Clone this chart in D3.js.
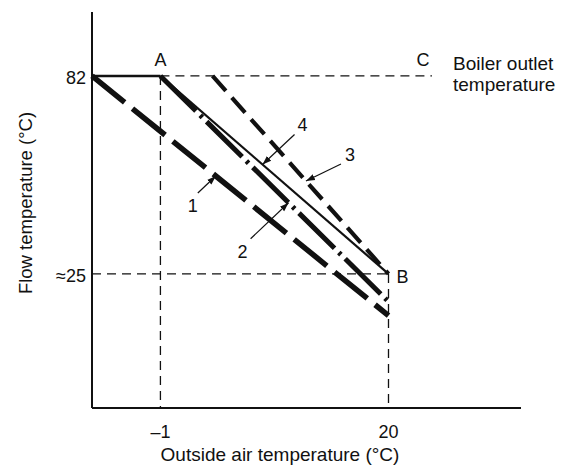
<!DOCTYPE html>
<html>
<head>
<meta charset="utf-8">
<script src="https://cdn.jsdelivr.net/npm/d3@7"></script>
<style>
  body { margin: 0; background: #fff; }
  svg text { font-family: "Liberation Sans", Arial, sans-serif; fill: #111; }
</style>
</head>
<body>
<script>
// schematic data (deg C)
const boilerTemp = 82;
const designOutside = -1;
const designInside = 20;
const lowFlow = 25;
const xTicks = [-1, 20];
const xTickLabels = ["\u20131", "20"];
const yTicks = [82, 25];
const yTickLabels = ["82", "\u224825"];

// the four flow curves: start x at 82 C, end temperature at 20 C
const curveNames = ["1", "2", "3", "4"];
const curveStartX = [-7.3, -1, 3.8, -1];
const curveEndY = [13, 17, 25, 25];
// where each arrow points on its curve (outside temp)
const arrowAtX = [4.1, 10.8, 12.4, 8.4];

const width = 565, height = 465;
const svg = d3.select("body").append("svg")
    .attr("width", width)
    .attr("height", height);

const x = d3.scaleLinear().domain([-7.3, 32.2]).range([92, 521]);
const y = d3.scaleLinear().domain([-13.6, 100.4]).range([408, 12]);

// arrow marker
svg.append("defs").append("marker")
    .attr("id", "arr")
    .attr("viewBox", "0 0 10 10")
    .attr("refX", 10).attr("refY", 5)
    .attr("markerWidth", 9).attr("markerHeight", 9)
    .attr("markerUnits", "userSpaceOnUse")
    .attr("orient", "auto")
    .append("path")
    .attr("d", "M0,1.5 L10,5 L0,8.5 Z")
    .attr("fill", "#111");

// dashed guide lines
const guides = [
    [designOutside, boilerTemp, 24, boilerTemp],
    [x.domain()[0], lowFlow, designInside, lowFlow],
    [designOutside, boilerTemp, designOutside, y.domain()[0]],
    [designInside, lowFlow, designInside, y.domain()[0]]
];
svg.selectAll(".guide").data(guides).enter().append("line")
    .attr("class", "guide")
    .attr("x1", d => x(d[0])).attr("y1", d => y(d[1]))
    .attr("x2", d => x(d[2])).attr("y2", d => y(d[3]))
    .attr("stroke", "#111")
    .attr("stroke-width", 1.3)
    .attr("stroke-dasharray", "9,6");

// axes (plain lines, no ticks)
svg.append("line")
    .attr("x1", x.range()[0]).attr("x2", x.range()[0])
    .attr("y1", y.range()[1]).attr("y2", y.range()[0])
    .attr("stroke", "#111").attr("stroke-width", 2);
svg.append("line")
    .attr("x1", x.range()[0]).attr("x2", x.range()[1])
    .attr("y1", y.range()[0]).attr("y2", y.range()[0])
    .attr("stroke", "#111").attr("stroke-width", 2);

// flat part of the curve at boiler temperature
svg.append("line")
    .attr("x1", x(x.domain()[0])).attr("y1", y(boilerTemp))
    .attr("x2", x(designOutside)).attr("y2", y(boilerTemp))
    .attr("stroke", "#111").attr("stroke-width", 2.5);

const curveStyle = {
    "1": { w: 5.5, dash: "42,10" },
    "2": { w: 5, dash: "50,6,3,6" },
    "3": { w: 4.2, dash: "20,9" },
    "4": { w: 2.2, dash: null }
};

const curves = curveNames.map((n, i) => ({
    name: n, x0: curveStartX[i], y0: boilerTemp, x1: designInside, y1: curveEndY[i], at: arrowAtX[i]
}));

svg.selectAll(".curve").data(curves).enter().append("line")
    .attr("class", "curve")
    .attr("x1", d => x(d.x0)).attr("y1", d => y(d.y0))
    .attr("x2", d => x(d.x1)).attr("y2", d => y(d.y1))
    .attr("stroke", "#111")
    .attr("stroke-width", d => curveStyle[d.name].w)
    .attr("stroke-dasharray", d => curveStyle[d.name].dash);

// arrows and number labels (label offsets in px from the tip)
const labelOff = {
    "1": { tx: -18, ty: 17, lx: -23, ly: 31 },
    "2": { tx: -38, ty: 36, lx: -46, ly: 50 },
    "3": { tx: 35, ty: -17, lx: 44, ly: -25 },
    "4": { tx: 32, ty: -30, lx: 40, ly: -38 }
};
function onCurve(d) {
    const t = (d.at - d.x0) / (d.x1 - d.x0);
    return [x(d.at), y(d.y0 + t * (d.y1 - d.y0))];
}
curves.forEach(d => {
    const p = onCurve(d);
    const o = labelOff[d.name];
    svg.append("line")
        .attr("x1", p[0] + o.tx).attr("y1", p[1] + o.ty)
        .attr("x2", p[0]).attr("y2", p[1])
        .attr("stroke", "#111").attr("stroke-width", 1.2)
        .attr("marker-end", "url(#arr)");
    svg.append("text")
        .attr("x", p[0] + o.lx).attr("y", p[1] + o.ly)
        .attr("text-anchor", "middle")
        .attr("dominant-baseline", "middle")
        .attr("font-size", 18)
        .text(d.name);
});

// point letters
svg.append("text").attr("x", x(designOutside)).attr("y", y(boilerTemp) - 10)
    .attr("text-anchor", "middle").attr("font-size", 18).text("A");
svg.append("text").attr("x", x(24) - 9).attr("y", y(boilerTemp) - 10)
    .attr("text-anchor", "middle").attr("font-size", 18).text("C");
svg.append("text").attr("x", x(designInside) + 14).attr("y", y(lowFlow) + 9)
    .attr("text-anchor", "middle").attr("font-size", 18).text("B");

svg.append("text").attr("x", 453).attr("y", 70).attr("font-size", 19).text("Boiler outlet");
svg.append("text").attr("x", 453).attr("y", 91).attr("font-size", 19).text("temperature");

// tick labels
svg.selectAll(".xt").data(xTicks).enter().append("text")
    .attr("x", d => x(d)).attr("y", 438)
    .attr("text-anchor", "middle").attr("font-size", 18)
    .text((d, i) => xTickLabels[i]);
svg.selectAll(".yt").data(yTicks).enter().append("text")
    .attr("x", 86).attr("y", d => y(d) + 3)
    .attr("text-anchor", "end").attr("dominant-baseline", "middle")
    .attr("font-size", 18)
    .text((d, i) => yTickLabels[i]);

// axis titles
svg.append("text").attr("x", 280).attr("y", 461)
    .attr("text-anchor", "middle").attr("font-size", 19)
    .text("Outside air temperature (\u00b0C)");
svg.append("text")
    .attr("transform", "translate(32,203) rotate(-90)")
    .attr("text-anchor", "middle").attr("font-size", 18.5)
    .text("Flow temperature (\u00b0C)");
</script>
</body>
</html>
